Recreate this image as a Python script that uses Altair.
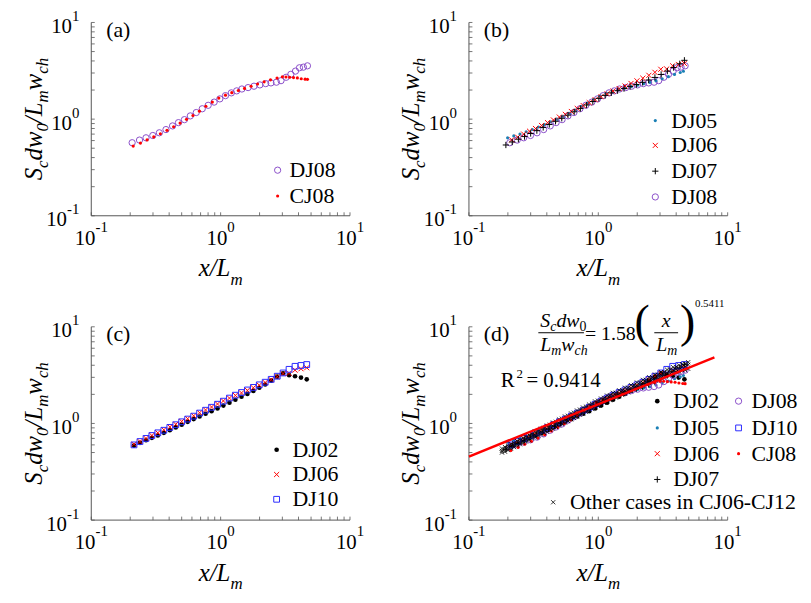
import altair as alt
import pandas as pd

# ---------------- data ----------------
X_DJ08 = [0.207, 0.236, 0.265, 0.299, 0.336, 0.378, 0.425, 0.472, 0.525, 0.583, 0.648, 0.721, 0.801, 0.891, 0.986, 1.09,
          1.21, 1.33, 1.46, 1.63, 1.81, 2.01, 2.23, 2.45, 2.70, 2.93, 3.21, 3.49, 3.79, 4.07, 4.36, 4.69]
Y_DJ08 = [0.570, 0.607, 0.641, 0.677, 0.722, 0.780, 0.851, 0.920, 0.988, 1.08, 1.17, 1.28, 1.39, 1.50, 1.62, 1.75,
          1.87, 1.96, 2.05, 2.12, 2.19, 2.26, 2.33, 2.37, 2.41, 2.50, 2.71, 2.91, 3.14, 3.40, 3.45, 3.56]

X_CJ08 = [0.211, 0.240, 0.270, 0.304, 0.342, 0.385, 0.433, 0.486, 0.545, 0.611, 0.686, 0.769, 0.863, 0.968, 1.09, 1.22,
          1.37, 1.53, 1.72, 1.93, 2.17, 2.43, 2.73, 3.00, 3.20, 3.42, 3.66, 3.92, 4.20, 4.50, 4.69]
Y_CJ08 = [0.526, 0.565, 0.610, 0.655, 0.705, 0.765, 0.835, 0.910, 0.995, 1.09, 1.21, 1.36, 1.50, 1.65, 1.77, 1.88,
          1.98, 2.08, 2.19, 2.31, 2.43, 2.55, 2.66, 2.74, 2.73, 2.71, 2.69, 2.67, 2.62, 2.59, 2.58]

X_DJ05 = [0.199, 0.222, 0.248, 0.277, 0.309, 0.345, 0.385, 0.430, 0.480, 0.536, 0.598, 0.668, 0.746, 0.833, 0.930, 1.04,
          1.16, 1.29, 1.44, 1.61, 1.80, 2.01, 2.24, 2.50, 2.79, 3.12, 3.48, 3.88, 4.30, 4.55]
Y_DJ05 = [0.64, 0.67, 0.70, 0.74, 0.78, 0.83, 0.88, 0.94, 1.00, 1.07, 1.15, 1.24, 1.35, 1.47, 1.60, 1.73,
          1.85, 1.95, 2.03, 2.10, 2.17, 2.24, 2.32, 2.40, 2.50, 2.62, 2.75, 2.90, 3.04, 3.13]

X_DJ07 = [0.193, 0.216, 0.241, 0.269, 0.300, 0.335, 0.375, 0.418, 0.467, 0.522, 0.583, 0.651, 0.727, 0.812, 0.907, 1.01,
          1.13, 1.26, 1.41, 1.58, 1.76, 1.97, 2.20, 2.45, 2.74, 3.06, 3.42, 3.82, 4.26, 4.63]
Y_DJ07 = [0.54, 0.58, 0.62, 0.66, 0.71, 0.76, 0.82, 0.88, 0.95, 1.02, 1.10, 1.19, 1.29, 1.40, 1.52, 1.64,
          1.76, 1.87, 1.97, 2.07, 2.17, 2.28, 2.40, 2.54, 2.70, 2.90, 3.14, 3.42, 3.74, 4.06]

X_C = [0.214, 0.238, 0.265, 0.294, 0.327, 0.364, 0.405, 0.450, 0.500, 0.556, 0.619, 0.688, 0.765, 0.851, 0.946, 1.05,
       1.17, 1.30, 1.45, 1.61, 1.79, 1.99, 2.21, 2.46, 2.74, 3.04, 3.38, 3.76, 4.18, 4.63]
Y_DJ02 = [0.59, 0.63, 0.67, 0.71, 0.75, 0.80, 0.85, 0.91, 0.97, 1.04, 1.11, 1.18, 1.26, 1.34, 1.43, 1.53,
          1.64, 1.76, 1.89, 2.02, 2.17, 2.34, 2.53, 2.77, 3.05, 3.30, 3.16, 3.08, 2.98, 2.86]
Y_DJ06 = [0.61, 0.65, 0.70, 0.75, 0.80, 0.86, 0.92, 0.98, 1.05, 1.12, 1.20, 1.29, 1.38, 1.48, 1.59, 1.71,
          1.83, 1.95, 2.07, 2.20, 2.34, 2.49, 2.65, 2.84, 3.05, 3.28, 3.30, 3.56, 3.68, 3.77]
Y_DJ10 = [0.60, 0.65, 0.70, 0.75, 0.80, 0.85, 0.91, 0.97, 1.04, 1.11, 1.19, 1.28, 1.37, 1.47, 1.58, 1.70,
          1.83, 1.96, 2.09, 2.22, 2.36, 2.51, 2.67, 2.86, 3.08, 3.33, 3.63, 3.90, 3.98, 4.07]

# other cases in CJ06-CJ12
X_O1 = [0.180, 0.200, 0.223, 0.248, 0.276, 0.307, 0.342, 0.380, 0.423, 0.471, 0.524, 0.583, 0.649, 0.722, 0.803, 0.894,
        0.995, 1.11, 1.23, 1.37, 1.53, 1.70, 1.89, 2.10, 2.34, 2.61, 2.90, 3.23, 3.59, 4.00, 4.45, 4.95]
X_O2 = [0.190, 0.211, 0.235, 0.262, 0.291, 0.324, 0.361, 0.401, 0.447, 0.497, 0.553, 0.616, 0.685, 0.762, 0.848, 0.944,
        1.05, 1.17, 1.30, 1.45, 1.61, 1.79, 1.99, 2.22, 2.47, 2.75, 3.06, 3.40, 3.79, 4.21, 4.69]
Y_O1 = [0.52, 0.56, 0.60, 0.64, 0.69, 0.74, 0.79, 0.85, 0.91, 0.98, 1.05, 1.13, 1.21, 1.30, 1.40, 1.51,
        1.62, 1.74, 1.86, 1.98, 2.10, 2.23, 2.37, 2.52, 2.68, 2.86, 3.05, 3.25, 3.45, 3.65, 3.85, 4.05]
Y_O2 = [0.55, 0.59, 0.63, 0.68, 0.73, 0.78, 0.84, 0.90, 0.97, 1.04, 1.12, 1.20, 1.29, 1.39, 1.49, 1.60,
        1.72, 1.84, 1.96, 2.08, 2.21, 2.35, 2.50, 2.66, 2.83, 3.01, 3.20, 3.40, 3.62, 3.85, 4.10, 4.30]
Y_O3 = [0.50, 0.53, 0.57, 0.61, 0.65, 0.70, 0.75, 0.80, 0.86, 0.92, 0.99, 1.06, 1.14, 1.23, 1.32, 1.42,
        1.52, 1.63, 1.74, 1.85, 1.97, 2.10, 2.24, 2.39, 2.55, 2.72, 2.90, 3.08, 3.26, 3.42, 3.56, 3.68]
Y_O4 = [0.54, 0.58, 0.62, 0.66, 0.71, 0.76, 0.82, 0.88, 0.94, 1.01, 1.09, 1.17, 1.26, 1.35, 1.45, 1.56,
        1.67, 1.79, 1.91, 2.03, 2.16, 2.30, 2.45, 2.61, 2.78, 2.96, 3.15, 3.34, 3.52, 3.70, 3.88]
Y_O5 = [0.57, 0.61, 0.66, 0.71, 0.76, 0.82, 0.88, 0.95, 1.02, 1.10, 1.18, 1.27, 1.36, 1.46, 1.57, 1.69,
        1.81, 1.94, 2.07, 2.20, 2.34, 2.49, 2.65, 2.82, 3.00, 3.19, 3.39, 3.60, 3.82, 4.00, 4.15]
Y_O6 = [0.51, 0.55, 0.59, 0.63, 0.67, 0.72, 0.77, 0.82, 0.88, 0.95, 1.02, 1.10, 1.18, 1.27, 1.36, 1.46,
        1.57, 1.68, 1.80, 1.92, 2.05, 2.18, 2.32, 2.47, 2.63, 2.80, 2.97, 3.14, 3.30, 3.44, 3.56]

FIT_A, FIT_B = 1.58, 0.5411
FIT_X = [0.1, 7.9]
DECADES = [0.1, 1, 10]
EXPONENTS = ["-1", "0", "1"]
MINOR = [0.2, 0.3, 0.4, 0.5, 0.6, 0.7, 0.8, 0.9, 2, 3, 4, 5, 6, 7, 8, 9]

# ---------------- styling ----------------
FONT = "Liberation Serif"
W, H = 261, 195
AX = "#555555"
TL = 3.5
PURPLE = "#8b4fc9"
TEAL = "#1a7fb5"
BLUE = "#2b2bff"
RED = "#ff0000"
XPATH = "M-1,-1L1,1M-1,1L1,-1"
PPATH = "M-1,0L1,0M0,-1L0,1"

STY = {
    "DJ02": dict(shape="circle", filled=True, color="black", size=22),
    "DJ05": dict(shape="circle", filled=True, color=TEAL, size=10),
    "DJ06": dict(shape=XPATH, filled=False, color=RED, size=26, strokeWidth=1),
    "DJ07": dict(shape=PPATH, filled=False, color="black", size=40, strokeWidth=1),
    "DJ08": dict(shape="circle", filled=False, color=PURPLE, size=40, strokeWidth=1),
    "DJ10": dict(shape="square", filled=False, color=BLUE, size=34, strokeWidth=1),
    "CJ08": dict(shape="circle", filled=True, color=RED, size=10),
    "Other cases in CJ06-CJ12": dict(shape=XPATH, filled=False, color="black", size=18, strokeWidth=0.8),
}

XS = alt.Scale(type="log", domain=[0.1, 10], nice=False)
YS = alt.Scale(type="log", domain=[0.1, 10], nice=False)

ITW = {"S": 500, "c": 444, "d": 500, "w": 667, "/": 278, "L": 556, "m": 722, "h": 500, "x": 444, "0": 500}
RW = {"0": 500, "1": 500, "2": 500, "3": 500, "4": 500, "5": 500, "6": 500, "7": 500, "8": 500, "9": 500,
      ".": 250, "=": 564, " ": 250, "-": 333, "(": 333, ")": 333, "R": 667}


def tw(s, size, italic=False):
    tab = ITW if italic else RW
    return sum(tab.get(ch, 500) for ch in s) * size / 1000.0


ONE = pd.DataFrame({"t": [""]})


def ann(s, x, y, size, italic=False, align="left", baseline="alphabetic", angle=0, dx=0, dy=0, color="black"):
    props = dict(align=align, baseline=baseline, font=FONT, fontSize=size,
                 fontStyle="italic" if italic else "normal", color=color)
    if angle:
        props["angle"] = angle
    if dx:
        props["dx"] = dx
    if dy:
        props["dy"] = dy
    return alt.Chart(pd.DataFrame({"t": [s]})).mark_text(**props).encode(
        x=alt.value(x), y=alt.value(y), text="t:N")


def run(pieces, x, y, center=True, angle=0):
    widths = [tw(p[0], p[1], p[2]) for p in pieces]
    acc = -sum(widths) / 2 if center else 0
    out = []
    for (s, size, it, d), w in zip(pieces, widths):
        if angle:
            out.append(ann(s, x, y, size, it, angle=angle, dx=acc, dy=d))
        else:
            out.append(ann(s, x + acc, y + d, size, it))
        acc += w
    return out


def frame():
    out = []
    out.append(alt.Chart(ONE).mark_rule(color=AX, strokeWidth=1).encode(
        x=alt.value(0), x2=alt.value(W), y=alt.value(H)))
    out.append(alt.Chart(ONE).mark_rule(color=AX, strokeWidth=1).encode(
        x=alt.value(0), y=alt.value(0), y2=alt.value(H)))
    tv = pd.DataFrame({"v": DECADES + MINOR})
    out.append(alt.Chart(tv).mark_rule(color=AX, strokeWidth=0.8).encode(
        x=alt.X("v:Q", scale=XS, axis=None), y=alt.value(H), y2=alt.value(H - TL)))
    out.append(alt.Chart(tv).mark_rule(color=AX, strokeWidth=0.8).encode(
        y=alt.Y("v:Q", scale=YS, axis=None), x=alt.value(0), x2=alt.value(TL)))
    for v, e in zip(DECADES, EXPONENTS):
        we = tw(e, 15)
        df = pd.DataFrame({"v": [v]})
        base = dict(font=FONT, color="black", baseline="alphabetic")
        out.append(alt.Chart(df).mark_text(align="center", fontSize=21, text="10", dx=-we / 2, **base).encode(
            x=alt.X("v:Q", scale=XS, axis=None), y=alt.value(H + 29)))
        out.append(alt.Chart(df).mark_text(align="left", fontSize=15, text=e, dx=10.5 - we / 2, **base).encode(
            x=alt.X("v:Q", scale=XS, axis=None), y=alt.value(H + 16)))
        out.append(alt.Chart(df).mark_text(align="right", fontSize=21, text="10", dy=10.5, **base).encode(
            y=alt.Y("v:Q", scale=YS, axis=None), x=alt.value(-12 - we)))
        out.append(alt.Chart(df).mark_text(align="right", fontSize=15, text=e, dy=-1.5, **base).encode(
            y=alt.Y("v:Q", scale=YS, axis=None), x=alt.value(-12)))
    F, f, sd = 25, 17, 6
    ytitle = [("S", F, True, 0), ("c", f, True, sd), ("dw", F, True, 0), ("0", f, True, sd),
              ("/L", F, True, 0), ("m", f, True, sd), ("w", F, True, 0), ("ch", f, True, sd)]
    out += run(ytitle, -50, H / 2, center=True, angle=270)
    xtitle = [("x/L", F, True, 0), ("m", f, True, 9)]
    out += run(xtitle, W / 2, H + 61, center=True)
    return out


def series(name, xs, ys):
    df = pd.DataFrame({"x": xs, "y": ys})
    return alt.Chart(df).mark_point(opacity=1, **STY[name]).encode(
        x=alt.X("x:Q", scale=XS, axis=None), y=alt.Y("y:Q", scale=YS, axis=None))


def legend(items):
    out = []
    for name, sx, sy, tx in items:
        out.append(alt.Chart(ONE).mark_point(opacity=1, **STY[name]).encode(x=alt.value(sx), y=alt.value(sy)))
        out.append(ann(name, tx, sy, 22, baseline="middle"))
    return out


def panel(label, data_layers, legend_items, extra=None):
    layers = frame() + data_layers + (extra or []) + legend(legend_items)
    layers.append(ann(label, 15, 14.5, 22))
    return alt.layer(*layers).properties(width=W, height=H)


pa = panel("(a)",
           [series("DJ08", X_DJ08, Y_DJ08), series("CJ08", X_CJ08, Y_CJ08)],
           [("DJ08", 188, H - 46, 200), ("CJ08", 188, H - 20, 200)])

pb = panel("(b)",
           [series("DJ08", X_DJ08, Y_DJ08), series("DJ05", X_DJ05, Y_DJ05),
            series("DJ06", X_C, Y_DJ06), series("DJ07", X_DJ07, Y_DJ07)],
           [("DJ05", 188, H - 96, 204), ("DJ06", 188, H - 71, 204),
            ("DJ07", 188, H - 45, 204), ("DJ08", 188, H - 19, 204)])

pc = panel("(c)",
           [series("DJ02", X_C, Y_DJ02), series("DJ06", X_C, Y_DJ06), series("DJ10", X_C, Y_DJ10)],
           [("DJ02", 187, H - 71, 203), ("DJ06", 187, H - 46, 203), ("DJ10", 187, H - 21, 203)])

fit = alt.Chart(pd.DataFrame({"x": FIT_X})).mark_line(color=RED, strokeWidth=2.5).transform_calculate(
    y=f"{FIT_A}*pow(datum.x,{FIT_B})").encode(
    x=alt.X("x:Q", scale=XS, axis=None), y=alt.Y("y:Q", scale=YS, axis=None))

OTH = "Other cases in CJ06-CJ12"
d_data = [series("DJ02", X_C, Y_DJ02), series("DJ05", X_DJ05, Y_DJ05), series("DJ06", X_C, Y_DJ06),
          series("DJ07", X_DJ07, Y_DJ07), series("DJ08", X_DJ08, Y_DJ08), series("DJ10", X_C, Y_DJ10),
          series("CJ08", X_CJ08, Y_CJ08),
          series(OTH, X_O1, Y_O1), series(OTH, X_O1, Y_O2), series(OTH, X_O1, Y_O3),
          series(OTH, X_O2, Y_O4), series(OTH, X_O2, Y_O5), series(OTH, X_O2, Y_O6),
          fit]

# equation annotation
EF, ef = 20, 14
eq = []
eq += run([("S", EF, True, 0), ("c", ef, True, 4), ("dw", EF, True, 0), ("0", ef, False, 4)], 72, 0, center=False)
eq += run([("L", EF, True, 0), ("m", ef, True, 4), ("w", EF, True, 0), ("ch", ef, True, 4)], 72, 24, center=False)
eq.append(alt.Chart(ONE).mark_rule(color="black", strokeWidth=1).encode(
    x=alt.value(70), x2=alt.value(116), y=alt.value(6)))
eq.append(ann("= 1.58", 117, 13, EF))
eq.append(ann("(", 167, 10, 46))
eq.append(ann("x", 199, 0, EF, italic=True, align="center"))
eq.append(alt.Chart(ONE).mark_rule(color="black", strokeWidth=1).encode(
    x=alt.value(187), x2=alt.value(211), y=alt.value(6)))
eq += run([("L", EF, True, 0), ("m", ef, True, 4)], 189, 24, center=False)
eq.append(ann(")", 213, 10, 46))
eq.append(ann("0.5411", 228, -20, 11))
eq.append(ann("R", 32, 61, 21))
eq.append(ann("2", 48, 52, 13))
eq.append(ann("= 0.9414", 58, 61, 21))

pd_ = panel("(d)", d_data,
            [("DJ02", 190, H - 120, 206), ("DJ05", 190, H - 93, 206), ("DJ06", 190, H - 67, 206),
             ("DJ07", 190, H - 41, 206), ("DJ08", 272, H - 120, 285), ("DJ10", 272, H - 93, 285),
             ("CJ08", 272, H - 67, 285), (OTH, 85, H - 18, 102)],
            extra=eq)

chart = alt.concat(pa, pb, pc, pd_, columns=2, spacing={"row": 112, "column": 120}, bounds="flush").properties(
    padding={"left": 14, "top": -2, "right": 5, "bottom": 5},
    background="white",
).configure_view(stroke=None)

chart.save("out.html", embed_options={"renderer": "svg", "actions": False})
